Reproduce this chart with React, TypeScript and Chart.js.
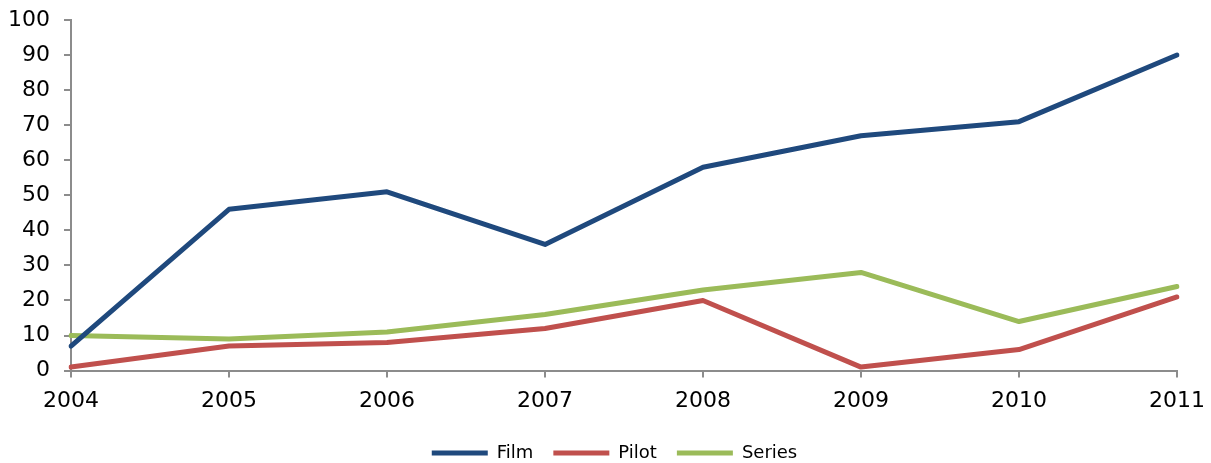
import React, { useEffect, useRef } from "react";
import { Chart, registerables } from "chart.js";

Chart.register(...registerables);

const years = ["2004", "2005", "2006", "2007", "2008", "2009", "2010", "2011"];
const film = [7, 46, 51, 36, 58, 67, 71, 90];
const pilot = [1, 7, 8, 12, 20, 1, 6, 21];
const series = [10, 9, 11, 16, 23, 28, 14, 24];

const FONT = "'DejaVu Sans', sans-serif";
const AXIS_GRAY = "#8c8c8c";

export default function App() {
  const canvasRef = useRef<HTMLCanvasElement | null>(null);

  useEffect(() => {
    document.body.style.margin = "0";
    const canvas = canvasRef.current;
    if (!canvas) return;
    const line = (label: string, data: number[], color: string) => ({
      label,
      data,
      borderColor: color,
      backgroundColor: color,
      borderWidth: 5,
      borderCapStyle: "round" as const,
      borderJoinStyle: "round" as const,
      pointRadius: 0,
      pointHoverRadius: 0,
      tension: 0,
      fill: false,
    });
    const chart = new Chart(canvas, {
      type: "line",
      data: {
        labels: years,
        datasets: [
          line("Film", film, "#1f497d"),
          line("Pilot", pilot, "#c0504d"),
          line("Series", series, "#9bbb59"),
        ],
      },
      options: {
        animation: false,
        responsive: false,
        layout: { padding: { left: -6, right: -24, top: 0, bottom: -9 } },
        plugins: {
          tooltip: { enabled: false },
          legend: {
            position: "bottom",
            labels: {
              usePointStyle: true,
              pointStyle: "line",
              pointStyleWidth: 56,
              padding: 20,
              color: "#000",
              font: { family: FONT, size: 18 },
            },
          },
        },
        scales: {
          x: {
            offset: false,
            afterFit: (scale: any) => {
              // room for the half-width of the last year label
              scale.paddingRight = 34;
            },
            border: { display: true, color: AXIS_GRAY, width: 2 },
            grid: {
              display: true,
              drawOnChartArea: false,
              drawTicks: true,
              tickLength: 7,
              color: AXIS_GRAY,
              lineWidth: 2,
            },
            ticks: {
              color: "#000",
              padding: 10,
              maxRotation: 0,
              font: { family: FONT, size: 22 },
            },
          },
          y: {
            min: 0,
            max: 100,
            afterFit: (scale: any) => {
              // room above the plot for the top tick label
              scale.paddingTop = 20;
            },
            border: { display: true, color: AXIS_GRAY, width: 2 },
            grid: {
              display: true,
              drawOnChartArea: false,
              drawTicks: true,
              tickLength: 7,
              color: AXIS_GRAY,
              lineWidth: 2,
            },
            ticks: {
              stepSize: 10,
              color: "#000",
              padding: 14,
              font: { family: FONT, size: 22 },
            },
          },
        },
      },
    });
    return () => chart.destroy();
  }, []);

  return <canvas ref={canvasRef} width={1211} height={463} style={{ display: "block" }} />;
}
